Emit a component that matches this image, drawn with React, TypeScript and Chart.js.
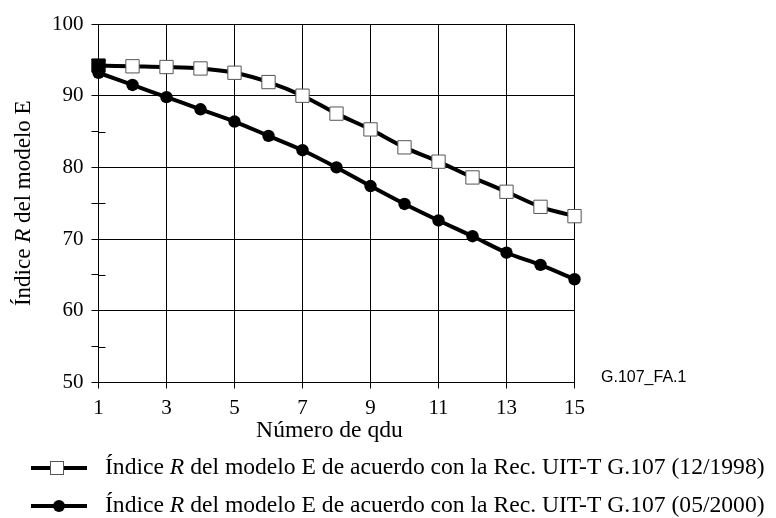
import React, { useEffect, useRef } from "react";
import { Chart, registerables } from "chart.js";

Chart.register(...registerables);

const qdu = [1, 2, 3, 4, 5, 6, 7, 8, 9, 10, 11, 12, 13, 14, 15];
const r1998 = [94.2, 94.1, 94.0, 93.8, 93.2, 91.9, 90.0, 87.5, 85.3, 82.8, 80.8, 78.6, 76.6, 74.5, 73.2];
const r2000 = [93.2, 91.5, 89.8, 88.1, 86.4, 84.4, 82.4, 80.0, 77.4, 74.9, 72.6, 70.4, 68.1, 66.4, 64.4];
const xTicks = [1, 3, 5, 7, 9, 11, 13, 15];
const minorY = [55, 65, 75, 85, 95];
const legendLabels = [
  ["Índice ", "R", " del modelo E de acuerdo con la Rec. UIT-T G.107 (12/1998)"],
  ["Índice ", "R", " del modelo E de acuerdo con la Rec. UIT-T G.107 (05/2000)"],
];
const yTitle = ["Índice ", "R", " del modelo E"];
const xTitle = "Número de qdu";
const figId = "G.107_FA.1";

const SERIF = "'Liberation Serif', 'Times New Roman', serif";
const FS = 21;
const TFS = 23.6;

function drawMixed(ctx: CanvasRenderingContext2D, parts: string[], x: number, y: number, align: "left" | "center", size: number) {
  const fonts = [`${size}px ${SERIF}`, `italic ${size}px ${SERIF}`, `${size}px ${SERIF}`];
  let total = 0;
  const widths = parts.map((p, i) => {
    ctx.font = fonts[i];
    const w = ctx.measureText(p).width;
    total += w;
    return w;
  });
  let cx = align === "center" ? x - total / 2 : x;
  ctx.textAlign = "left";
  ctx.textBaseline = "middle";
  parts.forEach((p, i) => {
    ctx.font = fonts[i];
    ctx.fillText(p, cx, y);
    cx += widths[i];
  });
}

const decorPlugin = {
  id: "decor",
  beforeDatasetsDraw(chart: any) {
    const ctx = chart.ctx;
    const ys = chart.scales.y;
    const left = chart.chartArea.left;
    ctx.save();
    ctx.strokeStyle = "#000";
    ctx.lineWidth = 1;
    minorY.forEach((v) => {
      const py = Math.round(ys.getPixelForValue(v)) + 0.5;
      ctx.beginPath();
      ctx.moveTo(left, py);
      ctx.lineTo(left + 7, py);
      ctx.stroke();
    });
    ctx.restore();
  },
  afterDraw(chart: any) {
    const ctx = chart.ctx;
    const ca = chart.chartArea;
    ctx.save();
    ctx.fillStyle = "#000";
    // x title
    ctx.font = `${TFS}px ${SERIF}`;
    ctx.textAlign = "center";
    ctx.textBaseline = "middle";
    ctx.fillText(xTitle, (ca.left + ca.right) / 2 - 7, 431);
    // y title
    ctx.save();
    ctx.translate(24, (ca.top + ca.bottom) / 2);
    ctx.rotate(-Math.PI / 2);
    drawMixed(ctx, yTitle, 0, 0, "center", 23);
    ctx.restore();
    // fig id
    ctx.font = `16px 'Liberation Sans', Arial, sans-serif`;
    ctx.textAlign = "left";
    ctx.textBaseline = "middle";
    ctx.fillText(figId, 601, 378);
    // legend
    const rows = [468, 506];
    rows.forEach((ry, i) => {
      ctx.strokeStyle = "#000";
      ctx.lineWidth = 4;
      ctx.beginPath();
      ctx.moveTo(31, ry);
      ctx.lineTo(87, ry);
      ctx.stroke();
      if (i === 0) {
        ctx.fillStyle = "#fff";
        ctx.strokeStyle = "#555";
        ctx.lineWidth = 1;
        ctx.fillRect(50.5, ry - 6.5, 13, 13);
        ctx.strokeRect(50.5, ry - 6.5, 13, 13);
      } else {
        ctx.fillStyle = "#000";
        ctx.beginPath();
        ctx.arc(59, ry, 6, 0, Math.PI * 2);
        ctx.fill();
      }
      ctx.fillStyle = "#000";
      drawMixed(ctx, legendLabels[i], 105, ry, "left", TFS);
    });
    ctx.restore();
  },
};

export default function App() {
  const ref = useRef<HTMLCanvasElement>(null);
  useEffect(() => {
    const chart = new Chart(ref.current as HTMLCanvasElement, {
      type: "line",
      data: {
        datasets: [
          {
            label: "2000",
            data: qdu.map((x, i) => ({ x, y: r2000[i] })),
            borderColor: "#000",
            borderWidth: 4,
            pointStyle: "circle",
            pointRadius: 6.2,
            pointBackgroundColor: "#000",
            pointBorderColor: "#000",
            pointBorderWidth: 0,
            cubicInterpolationMode: "monotone",
            clip: false,
          },
          {
            label: "1998",
            data: qdu.map((x, i) => ({ x, y: r1998[i] })),
            borderColor: "#000",
            borderWidth: 4,
            pointStyle: "rect",
            pointRadius: 9.4,
            pointBackgroundColor: (c: any) => (c.dataIndex === 0 ? "#000" : "#fff"),
            pointBorderColor: (c: any) => (c.dataIndex === 0 ? "#000" : "#555"),
            pointBorderWidth: 1,
            cubicInterpolationMode: "monotone",
            clip: false,
          },
        ],
      },
      options: {
        animation: false,
        responsive: false,
        devicePixelRatio: 1,
        layout: { padding: { left: 0, top: 24, right: 201.5, bottom: 0 } },
        plugins: { legend: { display: false }, tooltip: { enabled: false } },
        scales: {
          x: {
            type: "linear",
            min: 1,
            max: 15,
            afterBuildTicks: (s: any) => {
              s.ticks = xTicks.map((v) => ({ value: v }));
            },
            afterFit: (s: any) => {
              s.height = 135.5;
            },
            ticks: {
              font: { family: SERIF, size: FS },
              color: "#000",
              padding: 7,
              maxRotation: 0,
              autoSkip: false,
            },
            grid: { color: "#000", lineWidth: 1, tickLength: 6, tickColor: "#000" },
            border: { color: "#000", width: 1 },
          },
          y: {
            min: 50,
            max: 100,
            ticks: {
              stepSize: 5,
              font: { family: SERIF, size: FS },
              color: "#000",
              padding: 8,
              callback: (v: any) => (Number(v) % 10 === 0 ? String(v) : ""),
            },
            afterFit: (s: any) => {
              s.width = 98.5;
            },
            grid: {
              color: (c: any) => (c.tick && c.tick.value % 10 === 0 ? "#000" : "rgba(0,0,0,0)"),
              lineWidth: 1,
              tickLength: 7,
              tickColor: "#000",
            },
            border: { color: "#000", width: 1 },
          },
        },
      },
      plugins: [decorPlugin],
    } as any);
    return () => chart.destroy();
  }, []);
  return (
    <div style={{ position: "absolute", left: 0, top: 0, width: 776, height: 518, background: "#fff" }}>
      <canvas ref={ref} width={776} height={518} />
    </div>
  );
}
